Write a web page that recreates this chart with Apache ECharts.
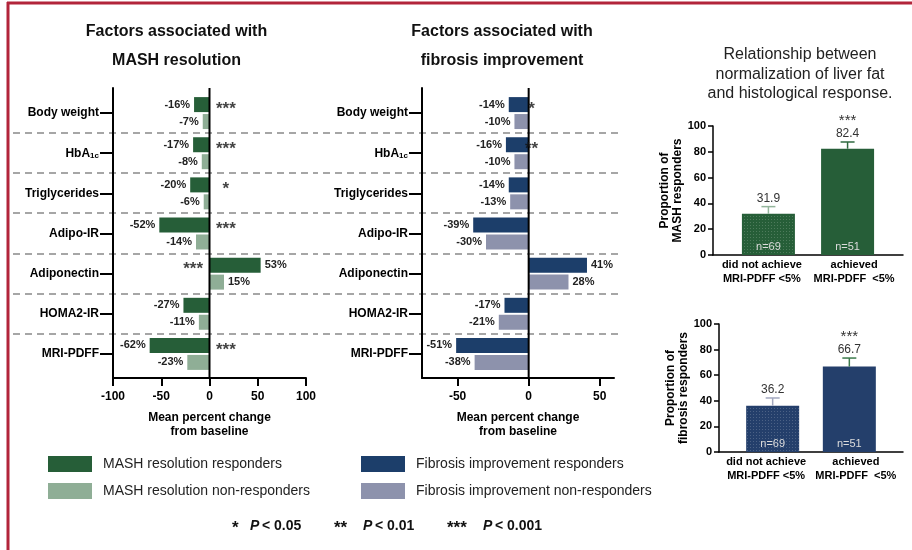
<!DOCTYPE html>
<html>
<head>
<meta charset="utf-8">
<script src="https://cdn.jsdelivr.net/npm/echarts@6/dist/echarts.min.js"></script>
<style>
  html, body { margin: 0; padding: 0; background: #fff; }
  #c { width: 912px; height: 550px; }
</style>
</head>
<body>
<div id="c"></div>
<script>
// ---- data ----
const factors = ['Body weight', 'HbA1c', 'Triglycerides', 'Adipo-IR', 'Adiponectin', 'HOMA2-IR', 'MRI-PDFF'];
const mashResponders = [-16, -17, -20, -52, 53, -27, -62];
const mashNonResponders = [-7, -8, -6, -14, 15, -11, -23];
const mashStars = ['***', '***', '*', '***', '***', '', '***'];
const fibResponders = [-14, -16, -14, -39, 41, -17, -51];
const fibNonResponders = [-10, -10, -13, -30, 28, -21, -38];
const fibStars = ['*', '**', '', '', '', '', ''];
const leftTicks = [-100, -50, 0, 50, 100];
const midTicks = [-50, 0, 50];
const pdffGroups = [['did not achieve', 'MRI-PDFF <5%'], ['achieved', 'MRI-PDFF  <5%']];
const mashProportion = [31.9, 82.4];
const mashProportionUpper = [37.5, 87.6];
const fibProportion = [36.2, 66.7];
const fibProportionUpper = [42.2, 73.4];
const groupN = ['n=69', 'n=51'];
const proportionSig = ['', '***'];
const proportionTicks = [0, 20, 40, 60, 80, 100];

// ---- styling ----
const FONT = '"Liberation Sans", Arial, Helvetica, sans-serif';
const GREEN = '#265e38', GREEN_L = '#8fae96';
const NAVY = '#1c3e6a', NAVY_L = '#8d92ac';
const NAVY_R = '#243f6b';
const STAR_GAP_MASH = 17, STAR_GAP_FIB = 2;
const GROUP_MIN = -0.7, GROUP_MAX = 1.7;
const DOTS = { symbol: 'rect', symbolSize: 1, dashArrayX: [1, 2], dashArrayY: [1, 2], color: 'rgba(255,255,255,0.18)' };

const chart = echarts.init(document.getElementById('c'));

const labelRich = {
  m: { fontSize: 12, fontWeight: 'bold', fontFamily: FONT, color: '#000' },
  s: { fontSize: 8, fontWeight: 'bold', fontFamily: FONT, color: '#000', verticalAlign: 'bottom', padding: [5, 0, 0, 0] }
};
const groupLabelBase = { fontSize: 11, fontWeight: 'bold', fontFamily: FONT, lineHeight: 14, color: '#000' };
const groupRich = {
  l: Object.assign({ padding: [0, 13, 0, 0] }, groupLabelBase),
  r: Object.assign({ padding: [0, 0, 0, 13] }, groupLabelBase)
};

function frameX(gridIndex, min, max, ticks) {
  const ax = {
    type: 'value', gridIndex, min, max,
    axisLine: { show: true, onZero: false, lineStyle: { color: '#000', width: 2 } },
    axisTick: { show: true, length: 8, lineStyle: { color: '#000', width: 2 } },
    axisLabel: { margin: 13, fontSize: 12, fontWeight: 'bold', fontFamily: FONT, color: '#000' },
    splitLine: { show: false },
    name: 'Mean percent change\nfrom baseline', nameLocation: 'middle', nameGap: 33,
    nameTextStyle: { fontSize: 12, fontWeight: 'bold', fontFamily: FONT, lineHeight: 14, color: '#000' }
  };
  if (ticks) {
    ax.axisTick.customValues = ticks;
    ax.axisLabel.customValues = ticks;
  } else {
    ax.interval = leftTicks[1] - leftTicks[0];
  }
  return ax;
}
function frameY(gridIndex) {
  return {
    type: 'value', gridIndex, min: 0, max: 1,
    axisLine: { show: true, onZero: false, lineStyle: { color: '#000', width: 2 } },
    axisTick: { show: false }, axisLabel: { show: false }, splitLine: { show: false }
  };
}
function hiddenX(gridIndex, min, max) {
  return { type: 'value', gridIndex, min, max, show: false, splitLine: { show: false } };
}
function factorAxis(gridIndex) {
  return {
    type: 'category', gridIndex, data: factors, inverse: true,
    axisLine: { show: false, onZero: false },
    axisTick: { show: true, alignWithLabel: true, length: 13, lineStyle: { color: '#000', width: 2 } },
    axisLabel: {
      margin: 14,
      formatter: v => v === 'HbA1c' ? '{m|HbA}{s|1c}' : '{m|' + v + '}',
      rich: labelRich
    },
    splitLine: { show: false }
  };
}
function zeroLine(axisIndex) {
  return {
    type: 'line', xAxisIndex: axisIndex, yAxisIndex: axisIndex, data: [[0, 0], [0, 1]],
    symbol: 'none', silent: true, z: 6, lineStyle: { color: '#000', width: 2 }
  };
}
function changeBars(name, axisIndex, values, color) {
  return {
    type: 'bar', name, xAxisIndex: axisIndex, yAxisIndex: axisIndex,
    barWidth: 15, barGap: '13%',
    itemStyle: { color },
    data: values.map(v => ({ value: v, label: { position: v < 0 ? 'left' : 'right' } })),
    label: {
      show: true, distance: 4, formatter: p => p.value + '%',
      fontSize: 11, fontWeight: 'bold', fontFamily: FONT, color: '#222'
    }
  };
}
function starMarks(axisIndex, stars, ref, gap) {
  const data = [];
  stars.forEach((s, i) => {
    if (s) data.push({ value: [-Math.sign(ref[i]) * gap, i], label: { formatter: s } });
  });
  return {
    type: 'scatter', xAxisIndex: axisIndex, yAxisIndex: axisIndex, silent: true, z: 7,
    symbolSize: 1, itemStyle: { color: 'transparent' }, data,
    label: {
      show: true, position: 'inside', offset: [0, -4],
      fontSize: 17, fontWeight: 'bold', fontFamily: FONT, color: '#111'
    }
  };
}
function groupLabel(v) {
  if (!Number.isInteger(v) || !pdffGroups[v]) return ' ';
  const key = v === 0 ? 'l' : 'r';
  return pdffGroups[v].map(line => '{' + key + '|' + line + '}').join('\n');
}
function propX(gridIndex) {
  // blank end labels keep the two group labels clear of the min/max overlap check
  const values = [GROUP_MIN].concat(pdffGroups.map((g, i) => i), [GROUP_MAX]);
  return {
    type: 'value', gridIndex, min: GROUP_MIN, max: GROUP_MAX,
    axisLine: { show: true, onZero: false, lineStyle: { color: '#000', width: 1.5 } },
    axisTick: { show: false }, splitLine: { show: false },
    axisLabel: {
      customValues: values, formatter: groupLabel, rich: groupRich,
      hideOverlap: false, margin: 3,
      fontSize: 11, fontWeight: 'bold', fontFamily: FONT, lineHeight: 14, color: '#000'
    }
  };
}
function propY(gridIndex, name) {
  return {
    type: 'value', gridIndex,
    min: proportionTicks[0], max: proportionTicks[proportionTicks.length - 1],
    interval: proportionTicks[1] - proportionTicks[0],
    axisLine: { show: true, onZero: false, lineStyle: { color: '#000', width: 1.5 } },
    axisTick: { show: true, length: 5, lineStyle: { color: '#000', width: 1.5 } },
    axisLabel: { margin: 7, fontSize: 11, fontWeight: 'bold', fontFamily: FONT, color: '#000' },
    splitLine: { show: false },
    name, nameLocation: 'middle', nameGap: 27,
    nameTextStyle: { fontSize: 12, fontWeight: 'bold', fontFamily: FONT, lineHeight: 13, color: '#000' }
  };
}
function proportionBars(name, axisIndex, values, color) {
  return {
    type: 'bar', name, xAxisIndex: axisIndex, yAxisIndex: axisIndex, barWidth: 53,
    itemStyle: { color },
    data: values.map((v, i) => ({ value: [i, v], itemStyle: i === 0 ? { decal: DOTS } : {} })),
    label: {
      show: true, position: 'insideBottom', distance: 3,
      formatter: p => groupN[p.dataIndex],
      fontSize: 11, fontFamily: FONT, color: '#dcdcdc'
    }
  };
}
function errorBars(axisIndex, values, uppers, colors) {
  return {
    type: 'custom', xAxisIndex: axisIndex, yAxisIndex: axisIndex, silent: true, z: 5,
    data: values.map((v, i) => [i, v, uppers[i]]),
    renderItem: (params, api) => {
      const i = params.dataIndex;
      const base = api.coord([api.value(0), api.value(1)]);
      const top = api.coord([api.value(0), api.value(2)]);
      const c = colors[i];
      const kids = [
        { type: 'line', shape: { x1: base[0], y1: base[1], x2: top[0], y2: top[1] }, style: { stroke: c, lineWidth: 1.5 } },
        { type: 'line', shape: { x1: top[0] - 7, y1: top[1], x2: top[0] + 7, y2: top[1] }, style: { stroke: c, lineWidth: 1.5 } },
        { type: 'text', x: top[0], y: top[1] - 8,
          style: { text: api.value(1).toFixed(1), fill: '#333', fontSize: 12, fontFamily: FONT, align: 'center', verticalAlign: 'middle' } }
      ];
      if (proportionSig[i]) {
        kids.push({ type: 'text', x: top[0], y: top[1] - 21,
          style: { text: proportionSig[i], fill: '#333', fontSize: 15, fontFamily: FONT, align: 'center', verticalAlign: 'middle' } });
      }
      return { type: 'group', children: kids };
    }
  };
}

const NO_BOUNDS = { outerBoundsMode: 'none', containLabel: false };
const option = {
  backgroundColor: '#fff',
  animation: false,
  textStyle: { fontFamily: FONT },
  grid: [
    Object.assign({ left: 113, right: 606, top: 88, height: 290 }, NO_BOUNDS),   // MASH frame
    Object.assign({ left: 113, right: 606, top: 93, height: 281 }, NO_BOUNDS),   // MASH bars
    Object.assign({ left: 422, right: 298, top: 88, height: 290 }, NO_BOUNDS),   // fibrosis frame
    Object.assign({ left: 422, right: 298, top: 93, height: 281 }, NO_BOUNDS),   // fibrosis bars
    Object.assign({ left: 713, right: 9, top: 126, bottom: 295 }, NO_BOUNDS),    // MASH proportion
    Object.assign({ left: 719, right: 9, top: 324, bottom: 98 }, NO_BOUNDS)      // fibrosis proportion
  ],
  xAxis: [
    frameX(0, leftTicks[0], leftTicks[leftTicks.length - 1], null),
    hiddenX(1, leftTicks[0], leftTicks[leftTicks.length - 1]),
    frameX(2, -75, 60, midTicks),
    hiddenX(3, -75, 60),
    propX(4),
    propX(5)
  ],
  yAxis: [
    frameY(0),
    factorAxis(1),
    frameY(2),
    factorAxis(3),
    propY(4, 'Proportion of\nMASH responders'),
    propY(5, 'Proportion of\nfibrosis responders')
  ],
  legend: [
    {
      left: 43, top: 451, orient: 'vertical', icon: 'rect', itemWidth: 44, itemHeight: 16, itemGap: 11,
      data: ['MASH resolution responders', 'MASH resolution non-responders'],
      textStyle: { fontSize: 14, fontFamily: FONT, color: '#222', padding: [0, 0, 0, 6] }, selectedMode: false
    },
    {
      left: 356, top: 451, orient: 'vertical', icon: 'rect', itemWidth: 44, itemHeight: 16, itemGap: 11,
      data: ['Fibrosis improvement responders', 'Fibrosis improvement non-responders'],
      textStyle: { fontSize: 14, fontFamily: FONT, color: '#222', padding: [0, 0, 0, 6] }, selectedMode: false
    }
  ],
  series: [
    zeroLine(0),
    changeBars('MASH resolution responders', 1, mashResponders, GREEN),
    changeBars('MASH resolution non-responders', 1, mashNonResponders, GREEN_L),
    starMarks(1, mashStars, mashResponders, STAR_GAP_MASH),
    zeroLine(2),
    changeBars('Fibrosis improvement responders', 3, fibResponders, NAVY),
    changeBars('Fibrosis improvement non-responders', 3, fibNonResponders, NAVY_L),
    starMarks(3, fibStars, fibResponders, STAR_GAP_FIB),
    proportionBars('MASH responders by liver fat', 4, mashProportion, GREEN),
    errorBars(4, mashProportion, mashProportionUpper, ['#93b59b', '#2f6a40']),
    proportionBars('Fibrosis responders by liver fat', 5, fibProportion, NAVY_R),
    errorBars(5, fibProportion, fibProportionUpper, ['#a3a8bf', '#3c7a4c'])
  ]
};
chart.setOption(option);

// ---- decorations: frame, titles, separators, significance key ----
function txt(x, y, text, font, align, color) {
  return {
    type: 'text', x, y, silent: true,
    style: { text, font, fill: color || '#111', align: align || 'center', textAlign: align || 'center',
             verticalAlign: 'middle', textVerticalAlign: 'middle' }
  };
}
const graphics = [
  { type: 'line', silent: true, shape: { x1: 8, y1: 2, x2: 8, y2: 550 }, style: { stroke: '#b2243a', lineWidth: 3 } },
  { type: 'line', silent: true, shape: { x1: 7, y1: 3, x2: 912, y2: 3 }, style: { stroke: '#b2243a', lineWidth: 3 } },
  txt(176.5, 32, 'Factors associated with', 'bold 16px ' + FONT),
  txt(176.5, 61, 'MASH resolution', 'bold 16px ' + FONT),
  txt(502, 32, 'Factors associated with', 'bold 16px ' + FONT),
  txt(502, 61, 'fibrosis improvement', 'bold 16px ' + FONT),
  txt(800, 55, 'Relationship between', '16px ' + FONT, 'center', '#222'),
  txt(800, 74.5, 'normalization of liver fat', '16px ' + FONT, 'center', '#222'),
  txt(800, 94, 'and histological response.', '16px ' + FONT, 'center', '#222'),
  txt(232, 528, '*', 'bold 17px ' + FONT, 'left'),
  txt(250, 526, 'P', 'italic bold 14px ' + FONT, 'left'),
  txt(262, 526, '< 0.05', 'bold 14px ' + FONT, 'left'),
  txt(334, 528, '**', 'bold 17px ' + FONT, 'left'),
  txt(363, 526, 'P', 'italic bold 14px ' + FONT, 'left'),
  txt(375, 526, '< 0.01', 'bold 14px ' + FONT, 'left'),
  txt(447, 528, '***', 'bold 17px ' + FONT, 'left'),
  txt(483, 526, 'P', 'italic bold 14px ' + FONT, 'left'),
  txt(495, 526, '< 0.001', 'bold 14px ' + FONT, 'left')
];
function separators(yAxisIndex, x1, x2) {
  const out = [];
  for (let i = 0; i < factors.length - 1; i++) {
    const a = chart.convertToPixel({ yAxisIndex }, i);
    const b = chart.convertToPixel({ yAxisIndex }, i + 1);
    const y = Math.round((a + b) / 2);
    out.push({ type: 'line', silent: true, z: -1, shape: { x1, y1: y, x2, y2: y },
               style: { stroke: '#a6a6a6', lineWidth: 2, lineDash: [7, 5] } });
  }
  return out;
}
chart.setOption({ graphic: graphics.concat(separators(1, 13, 318), separators(3, 323, 620)) });
</script>
</body>
</html>
